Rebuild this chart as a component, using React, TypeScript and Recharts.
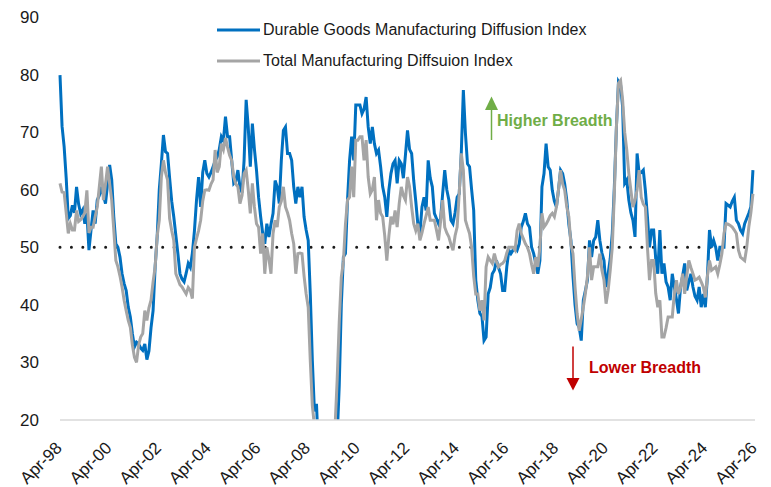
import React from 'react';
import { LineChart, Line, XAxis, YAxis, ReferenceLine, Legend } from 'recharts';

// monthly readings, Apr-98 onwards (month index = position in array)
const durable = [
  79.9, 71, 67.5, 62, 55, 55.5, 57.3, 56, 60.5, 57.5, 55.8, 56.5,
  54.1, 56, 49.5, 53, 56.4, 54.1, 58.2, 59, 60.5, 59, 57.6, 61,
  64.3, 61.7, 55.3, 50.6, 50, 48.3, 45.4, 43.7, 42.5, 39.6, 37.9, 35,
  32.7, 33.5, 33.2, 32.5, 32.1, 33.2, 30.5, 32, 36, 39, 46.6, 52,
  60, 64.5, 69.5, 66.6, 66.3, 62, 58, 55.3, 52.1, 48.9, 45.4, 44.5,
  44, 45.5, 47.2, 46.5, 49, 52.9, 58.2, 62.2, 57, 63, 65.1, 62.8,
  62.2, 63, 64, 65, 65.7, 67, 69.2, 68.5, 72.7, 69.2, 69.2, 65.1,
  61.1, 61.5, 63.4, 60.5, 59.5, 65.1, 75.6, 70.9, 64, 71.5, 67, 63.4,
  58.7, 55.3, 52.4, 50.6, 54.1, 51.8, 54, 55.9, 61.6, 60.5, 57.6, 65.1,
  70.3, 70.9, 66.3, 66.3, 65.1, 60.5, 57.6, 60.5, 58.7, 60.5, 55.3, 53,
  51.2, 41.9, 30.3, 21.5, 22.8, 14, 10, 8, 6, 5, 6, 8,
  11, 14, 17, 26, 40, 48.3, 48.9, 58.2, 65.1, 69.2, 65.1, 74.7,
  74.7, 74.7, 73.2, 74, 76.1, 70.9, 68, 70.9, 68, 66.3, 66.9, 64,
  60.5, 58.7, 55.3, 60, 62.8, 64.5, 65.1, 61.1, 65.1, 64.5, 62, 66,
  70.3, 67, 66.3, 61.6, 58, 54, 52.4, 57, 58.7, 56.4, 65.1, 62,
  60.5, 55.9, 55, 54.1, 55, 59.3, 63.4, 60, 58.2, 54.7, 54.1, 56,
  58.7, 59.3, 66.3, 77.3, 69.8, 64.5, 64, 60, 56.4, 44.3, 40.8, 38.5,
  38, 33.8, 34.4, 41.9, 43, 45.4, 46, 47.7, 46.5, 45.4, 42.5, 42.5,
  46.6, 49.5, 48.9, 49.5, 50, 49.5, 50.6, 53.5, 54.5, 55.9, 54.1, 53.5,
  50, 48.9, 47.2, 45.4, 47.7, 60.5, 62.8, 68, 64, 63.4, 59.9, 58,
  57, 60, 63.4, 62.8, 61, 58.2, 54, 51.2, 45, 40, 36.7, 36.1,
  33.8, 40.8, 42.5, 44.3, 51.2, 48.3, 51.2, 51.8, 54.7, 51.2, 49, 47.7,
  43.1, 45.4, 48, 52.4, 60.5, 70.9, 78.8, 78.2, 74.4, 61.1, 61.7, 58.2,
  56, 54.7, 51.8, 66.3, 62.8, 63, 63.4, 59.9, 55.3, 50, 53, 53,
  48, 45.4, 53, 45.4, 47.2, 44, 43.1, 40.8, 45.4, 43.1, 41, 38.5,
  43.1, 45, 47.2, 42.5, 44, 45.4, 43.1, 41.5, 40.8, 43.1, 39.6, 41.9,
  39.6, 45, 53, 50, 51.2, 50, 47.7, 50, 50, 50, 57.6, 57.3,
  57, 58, 58.7, 54.7, 54.1, 53, 52.4, 54.1, 55, 55.9, 57, 63.4,
];

const total = [
  61.1, 59.6, 59.5, 56, 52.4, 54.1, 53, 53, 56.4, 54.5, 54.8, 55.3,
  56, 59.9, 52.5, 53.5, 53.5, 55.3, 57, 60.5, 64, 58.2, 61, 64,
  61, 58.2, 53, 47.7, 46.6, 45, 43.1, 40.8, 39, 37.3, 36.1, 33,
  30.9, 30, 33, 34.4, 35, 39, 37.3, 39.5, 40.8, 44, 46.6, 52,
  54.7, 62.2, 65.1, 63, 61.7, 55, 52.9, 51.2, 45.4, 44.5, 43.5, 43.1,
  42.5, 41.9, 43, 42.5, 41.1, 50, 51.5, 52.9, 54.7, 58, 59.9, 60,
  59.9, 61, 61.7, 66.9, 63, 64, 68, 67, 69, 67.4, 66, 65.1,
  62.2, 61, 60.5, 57.6, 59, 62.8, 63.4, 60, 55.9, 61.1, 57, 54.1,
  53.5, 48.9, 52.4, 45.4, 50, 48, 45.4, 52.4, 54.7, 53.5, 57, 58,
  60.5, 57, 56, 54.7, 52.4, 50.6, 45.4, 48.9, 49, 48.9, 45, 41.9,
  39.6, 30.3, 22.5, 19, 12, 9, 7, 5, 4, 5, 7, 10,
  14, 19, 27, 37, 44.8, 47.5, 54, 58.2, 58.7, 64, 58.7, 68.6,
  68.6, 69.2, 69.2, 65.1, 68.6, 62.2, 59.3, 60, 62.2, 54.7, 58.2, 55.9,
  55.3, 52, 47.7, 52, 55.3, 54, 56.4, 53.5, 57.6, 60.5, 59, 58.2,
  62.2, 60.5, 57, 54.1, 52.9, 54.1, 51.2, 52.5, 54.1, 55.5, 57, 54.7,
  54.7, 54.7, 53, 51.2, 54.5, 58.2, 53.5, 52.5, 51.8, 50.5, 49.5, 52,
  53.5, 59.3, 66.3, 63.4, 54.7, 53.5, 52.4, 50, 45, 41.9, 41.9, 39,
  40.8, 37.3, 46.6, 48.3, 47.7, 47.2, 48.9, 47.5, 46.6, 47, 47.2, 47.7,
  49, 50, 50, 50, 49.5, 52.9, 54.1, 52.4, 51.5, 50.6, 50, 48.9,
  47, 45.4, 48.3, 46.6, 50, 55.9, 53.5, 54, 54.7, 55.5, 55.9, 55.3,
  57, 60, 63.4, 61, 59.9, 57, 55.3, 50.5, 48.9, 43.1, 38.5, 35.5,
  37.5, 39.6, 42, 45, 50, 44.3, 46.6, 46.6, 46.6, 48.9, 46, 44.3,
  40.2, 42.5, 46, 50, 59.3, 70.9, 78.5, 79, 75.6, 70, 66.9, 62.8,
  59.9, 57, 58.2, 60, 63.4, 58.7, 57.5, 57, 50, 44.3, 47.7, 47.7,
  42, 39.6, 40.8, 34.4, 34.4, 36, 37.9, 37.9, 37.9, 41.9, 44.3, 41.9,
  43, 45.4, 41.9, 45, 47.7, 46.5, 45.4, 44.3, 44.5, 44.8, 44, 43.1,
  41.3, 45, 47.7, 46, 46.3, 46.6, 45.4, 47, 48.9, 52.4, 54.1, 54,
  53.8, 53.5, 53, 52.4, 49.5, 48.3, 48, 47.7, 50, 53.5, 56, 59.3,
];

const xTickLabels = [
  'Apr-98', 'Apr-00', 'Apr-02', 'Apr-04', 'Apr-06', 'Apr-08', 'Apr-10', 'Apr-12',
  'Apr-14', 'Apr-16', 'Apr-18', 'Apr-20', 'Apr-22', 'Apr-24', 'Apr-26',
];
const yTicks = [20, 30, 40, 50, 60, 70, 80, 90];

const seriesNames = {
  durable: 'Durable Goods Manufacturing Diffusion Index',
  total: 'Total Manufacturing Diffsuion Index',
};

const FONT = '"Liberation Sans", Arial, sans-serif';
const BLUE = '#0070C0';
const GREY = '#A5A5A5';

const chartData = durable.map((v, i) => ({ m: i, durable: v, total: total[i] }));
const xTicks = xTickLabels.map((_, i) => i * 24);

const XTick = (props: any) => {
  const { x, y, payload } = props;
  const label = xTickLabels[Math.round(payload.value / 24)];
  const tx = x + 3;
  const ty = y + 29;
  return (
    <text
      x={tx}
      y={ty}
      transform={`rotate(-45 ${tx} ${ty})`}
      textAnchor="end"
      fontSize={17}
      fontFamily={FONT}
      fill="#1a1a1a"
    >
      {label}
    </text>
  );
};

const renderLegend = () => (
  <div style={{ fontFamily: FONT, fontSize: 16, color: '#1a1a1a', lineHeight: '31px' }}>
    {[
      { name: seriesNames.durable, color: BLUE },
      { name: seriesNames.total, color: GREY },
    ].map((item) => (
      <div key={item.name} style={{ display: 'flex', alignItems: 'center', height: 31 }}>
        <svg width={46} height={6} style={{ display: 'block' }}>
          <line x1={0} y1={3} x2={43} y2={3} stroke={item.color} strokeWidth={3} />
        </svg>
        <span>{item.name}</span>
      </div>
    ))}
  </div>
);

export default function App() {
  return (
    <div style={{ position: 'relative', width: 771, height: 487, background: '#fff' }}>
      <style>{'body{margin:0;}'}</style>
      <LineChart
        width={771}
        height={487}
        data={chartData}
        margin={{ top: 17, right: 16, left: 0, bottom: 0 }}
      >
        <XAxis
          dataKey="m"
          type="number"
          domain={[0, 336]}
          ticks={xTicks}
          interval={0}
          tick={<XTick />}
          tickLine={false}
          tickSize={0}
          tickMargin={0}
          height={67}
          axisLine={{ stroke: '#d9d9d9', strokeWidth: 1.5 }}
        />
        <YAxis
          domain={[20, 90]}
          ticks={yTicks}
          allowDataOverflow
          axisLine={false}
          tickLine={false}
          tickSize={0}
          tickMargin={21}
          width={60}
          tick={{ fontSize: 17, fontFamily: FONT, fill: '#1a1a1a' }}
        />
        <ReferenceLine
          y={50}
          stroke="#1a1a1a"
          strokeWidth={3}
          strokeDasharray="0.01 11.4"
          strokeLinecap="round"
        />
        <Legend
          content={renderLegend}
          layout="horizontal"
          verticalAlign="middle"
          align="center"
          wrapperStyle={{ top: 14, left: 217, width: 420 }}
        />
        <Line
          type="linear"
          dataKey="durable"
          name={seriesNames.durable}
          stroke={BLUE}
          strokeWidth={3}
          dot={false}
          isAnimationActive={false}
        />
        <Line
          type="linear"
          dataKey="total"
          name={seriesNames.total}
          stroke={GREY}
          strokeWidth={3}
          dot={false}
          isAnimationActive={false}
        />
      </LineChart>
      <svg
        width={771}
        height={487}
        style={{ position: 'absolute', left: 0, top: 0, pointerEvents: 'none' }}
      >
        <line x1={491.5} y1={140} x2={491.5} y2={108} stroke="#70AD47" strokeWidth={1.5} />
        <polygon points="485,110 498,110 491.5,96.5" fill="#70AD47" />
        <text x={497} y={126} fontFamily={FONT} fontSize={16} fontWeight="bold" fill="#70AD47">
          Higher Breadth
        </text>
        <line x1={573} y1={346.5} x2={573} y2={379} stroke="#C00000" strokeWidth={1.5} />
        <polygon points="566.5,378 579.5,378 573,390.5" fill="#C00000" />
        <text x={589} y={372.5} fontFamily={FONT} fontSize={16} fontWeight="bold" fill="#C00000">
          Lower Breadth
        </text>
      </svg>
    </div>
  );
}
